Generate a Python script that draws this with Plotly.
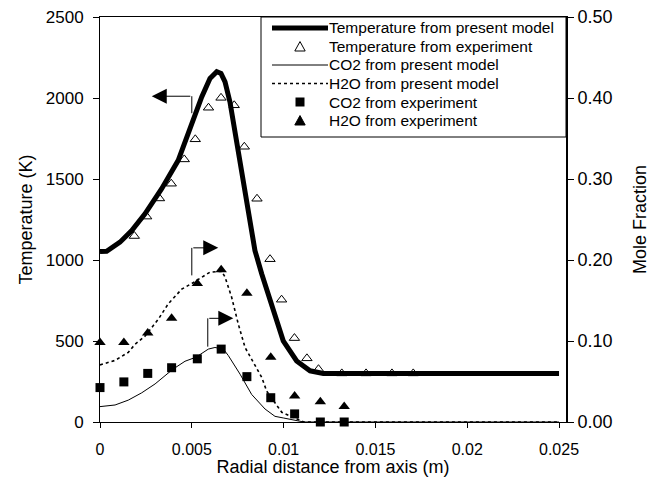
import plotly.graph_objects as go

# radial distance (m) / temperature (K) / mole fraction
temp_model_x = [0, 0.00036, 0.00109, 0.00173, 0.00245, 0.00336, 0.00426, 0.005, 0.00554,
                0.00599, 0.00636, 0.00659, 0.00681, 0.00708, 0.00735, 0.00772, 0.00808,
                0.00844, 0.00881, 0.00935, 0.00998, 0.01071, 0.01144, 0.01216, 0.025]
temp_model_y = [1052, 1054, 1110, 1182, 1285, 1440, 1615, 1842, 2007,
                2121, 2162, 2152, 2100, 1974, 1801, 1553, 1306,
                1058, 914, 728, 501, 377, 316, 300, 300]

temp_exp_x = [0.00187, 0.00254, 0.00324, 0.00388, 0.00459, 0.00519, 0.00591, 0.00659,
              0.00731, 0.00786, 0.00855, 0.00926, 0.00989, 0.01059, 0.01127, 0.0119,
              0.01317, 0.01449, 0.0159, 0.01706]
temp_exp_y = [1148, 1268, 1380, 1471, 1621, 1745, 1940, 2001,
              1955, 1699, 1378, 1005, 755, 518, 393, 326,
              300, 300, 300, 300]

co2_model_x = [0, 0.00082, 0.00154, 0.00227, 0.003, 0.00396, 0.00463, 0.00523, 0.0059,
               0.00626, 0.00672, 0.00699, 0.00763, 0.00826, 0.00899, 0.00953, 0.00998,
               0.0111, 0.025]
co2_model_y = [0.019, 0.021, 0.027, 0.036, 0.047, 0.065, 0.075, 0.080, 0.090,
               0.092, 0.090, 0.082, 0.059, 0.034, 0.016, 0.007, 0.005,
               0.0, 0.0]

h2o_model_x = [0, 0.00082, 0.00154, 0.00191, 0.00245, 0.00318, 0.00372, 0.00445, 0.005,
               0.00554, 0.00599, 0.00663, 0.00681, 0.00717, 0.00753, 0.0079, 0.00826,
               0.00881, 0.00908, 0.0099, 0.0111, 0.025]
h2o_model_y = [0.0705, 0.076, 0.086, 0.096, 0.106, 0.127, 0.146, 0.164, 0.171,
               0.179, 0.185, 0.186, 0.179, 0.154, 0.121, 0.092, 0.078,
               0.055, 0.038, 0.012, 0.0, 0.0]

exp_x = [0, 0.0013, 0.0026, 0.0039, 0.0053, 0.0066, 0.008, 0.0093, 0.0106, 0.012, 0.0133]
co2_exp_y = [0.0425, 0.0495, 0.060, 0.067, 0.078, 0.090, 0.056, 0.030, 0.010, 0.0, 0.0]
h2o_exp_y = [0.098, 0.098, 0.110, 0.128, 0.171, 0.188, 0.159, 0.080, 0.032, 0.025, 0.019]

x_ticks = [0, 0.005, 0.01, 0.015, 0.02, 0.025]
x_tick_text = ["0", "0.005", "0.01", "0.015", "0.02", "0.025"]
t_ticks = [0, 500, 1000, 1500, 2000, 2500]
mf_ticks = [0, 0.1, 0.2, 0.3, 0.4, 0.5]

legend_labels = [
    "Temperature from present model",
    "Temperature from experiment",
    "CO2 from present model",
    "H2O from present model",
    "CO2 from experiment",
    "H2O from experiment",
]

FONT = "Liberation Sans, Arial, sans-serif"

fig = go.Figure()

fig.add_trace(go.Scatter(
    x=temp_model_x, y=temp_model_y, mode="lines", name=legend_labels[0],
    line=dict(color="black", width=5),
))
fig.add_trace(go.Scatter(
    x=temp_exp_x, y=temp_exp_y, mode="markers", name=legend_labels[1],
    marker=dict(symbol="triangle-up-open", size=9, color="black", line=dict(width=1)),
    cliponaxis=False,
))
fig.add_trace(go.Scatter(
    x=co2_model_x, y=co2_model_y, mode="lines", yaxis="y2", name=legend_labels[2],
    line=dict(color="black", width=1),
))
fig.add_trace(go.Scatter(
    x=h2o_model_x, y=h2o_model_y, mode="lines", yaxis="y2", name=legend_labels[3],
    line=dict(color="black", width=1.6, dash="3px,3px"),
))
fig.add_trace(go.Scatter(
    x=exp_x, y=co2_exp_y, mode="markers", yaxis="y2", name=legend_labels[4],
    marker=dict(symbol="square", size=9, color="black"),
    cliponaxis=False,
))
fig.add_trace(go.Scatter(
    x=exp_x, y=h2o_exp_y, mode="markers", yaxis="y2", name=legend_labels[5],
    marker=dict(symbol="triangle-up", size=10, color="black"),
    cliponaxis=False,
))

# bent arrows pointing to the axis each curve belongs to
arrows = [
    # x of vertical, y start, y corner, x tip, axis
    (0.005, 1906, 2011, 0.00282, "y"),
    (0.005, 0.181, 0.215, 0.00644, "y2"),
    (0.00587, 0.093, 0.128, 0.00726, "y2"),
]
for xv, y0, y1, xt, ax in arrows:
    fig.add_shape(type="line", xref="x", yref=ax, x0=xv, x1=xv, y0=y0, y1=y1,
                  line=dict(color="black", width=1))
    fig.add_annotation(x=xt, y=y1, ax=xv, ay=y1, xref="x", yref=ax, axref="x", ayref=ax,
                       text="", showarrow=True, arrowhead=2, arrowsize=3,
                       arrowwidth=1, arrowcolor="black")

# ---- legend box drawn by hand (Excel style spacing) ----
plot_w, plot_h = 466.0, 405.0
lg_left, lg_top, lg_bottom = (261 - 100) / plot_w, 1.0, (422 - 137) / plot_h
sym_x0, sym_x1 = (272 - 100) / plot_w, (328 - 100) / plot_w
sym_c = (sym_x0 + sym_x1) / 2
text_x = (327 - 100) / plot_w
row_px = [28, 46.5, 65, 83.5, 102, 120.5]

fig.add_shape(type="rect", xref="paper", yref="paper",
              x0=lg_left, x1=1.0, y0=lg_bottom, y1=lg_top,
              line=dict(color="black", width=1), fillcolor="white", layer="above")

for i, (label, ry) in enumerate(zip(legend_labels, row_px)):
    yc = (422 - ry) / plot_h
    fig.add_annotation(x=text_x, y=yc, xref="paper", yref="paper", text=label,
                       showarrow=False, xanchor="left", yanchor="middle",
                       font=dict(size=15.5, family=FONT, color="black"))
    if i == 0:
        fig.add_shape(type="line", xref="paper", yref="paper", x0=sym_x0, x1=sym_x1,
                      y0=yc, y1=yc, line=dict(color="black", width=5))
    elif i == 2:
        fig.add_shape(type="line", xref="paper", yref="paper", x0=sym_x0, x1=sym_x1,
                      y0=yc, y1=yc, line=dict(color="black", width=1))
    elif i == 3:
        fig.add_shape(type="line", xref="paper", yref="paper", x0=sym_x0, x1=sym_x1,
                      y0=yc, y1=yc, line=dict(color="black", width=1.3, dash="3px,3px"))
    else:
        # marker glyph in paper units (half-size 4.5 px)
        hx, hy = 4.5 / plot_w, 4.5 / plot_h
        if i == 4:
            fig.add_shape(type="rect", xref="paper", yref="paper",
                          x0=sym_c - hx, x1=sym_c + hx, y0=yc - hy, y1=yc + hy,
                          line=dict(color="black", width=0), fillcolor="black")
        else:
            tw = 5.2 / plot_w
            path = (f"M {sym_c - tw},{yc - hy} L {sym_c + tw},{yc - hy} "
                    f"L {sym_c},{yc + hy * 1.1} Z")
            fig.add_shape(type="path", xref="paper", yref="paper", path=path,
                          line=dict(color="black", width=1),
                          fillcolor="black" if i == 5 else "white")

# page body has an 8px margin, so the figure is 8px smaller and margins shifted
fig.update_layout(
    width=650, height=469,
    margin=dict(l=92, r=92, t=9, b=55),
    paper_bgcolor="white", plot_bgcolor="white",
    font=dict(family=FONT, color="black", size=17),
    showlegend=False,
    xaxis=dict(
        range=[0, 0.02538], tickvals=x_ticks, ticktext=x_tick_text,
        showline=True, linecolor="black", linewidth=1, mirror=True,
        ticks="outside", ticklen=5, tickcolor="black", automargin=False,
        ticklabelstandoff=8, ticklabeloverflow="allow",
        showgrid=False, zeroline=False, tickfont=dict(size=16),
        title=dict(text="Radial distance from axis (m)", font=dict(size=18), standoff=4),
    ),
    yaxis=dict(
        range=[0, 2500], tickvals=t_ticks,
        showline=True, linecolor="black", linewidth=1,
        ticks="outside", ticklen=6, tickcolor="black", automargin=False,
        ticklabelstandoff=6, ticklabeloverflow="allow",
        showgrid=False, zeroline=False, tickfont=dict(size=17),
        title=dict(text="Temperature (K)", font=dict(size=18), standoff=8),
    ),
    yaxis2=dict(
        range=[0, 0.5], tickvals=mf_ticks, tickformat=".2f",
        overlaying="y", side="right",
        showline=True, linecolor="black", linewidth=2,
        ticks="outside", ticklen=6, tickcolor="black", automargin=False,
        ticklabeloverflow="allow",
        showgrid=False, zeroline=False, tickfont=dict(size=18),
        title=dict(text="Mole Fraction", font=dict(size=18), standoff=22),
    ),
    # inside half of the crossing ticks on the right axis
    yaxis3=dict(
        range=[0, 0.5], tickvals=mf_ticks, overlaying="y", side="right",
        showline=False, showticklabels=False, ticks="inside", ticklen=6,
        tickcolor="black", showgrid=False, zeroline=False, automargin=False,
    ),
)

fig.write_html("out.html")
